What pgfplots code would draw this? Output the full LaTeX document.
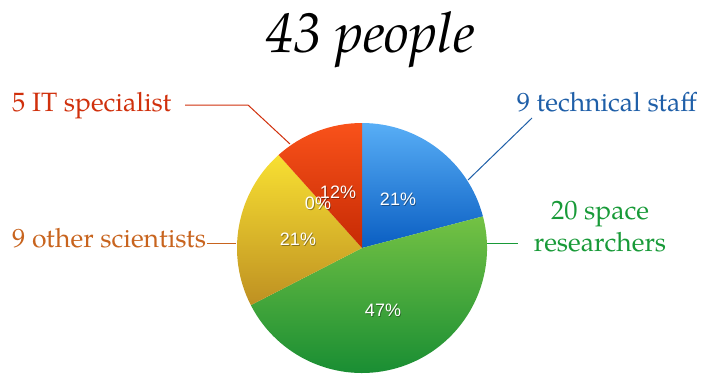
\documentclass[border=0pt]{standalone}
\usepackage{pgfplots}
\pgfplotsset{compat=1.18}
\usepackage{pgfplotstable}
\usepackage{fontspec}
\setmainfont{TeX Gyre Pagella}
\newfontfamily\pctfont{Liberation Sans}
\definecolor{blueT}{HTML}{58AEF6}
\definecolor{blueB}{HTML}{0A5EC2}
\definecolor{greenT}{HTML}{74C244}
\definecolor{greenB}{HTML}{138A32}
\definecolor{yellowT}{HTML}{F8E032}
\definecolor{yellowB}{HTML}{BE9022}
\definecolor{redT}{HTML}{F9521A}
\definecolor{redB}{HTML}{C62A04}
\definecolor{labRed}{HTML}{D0300C}
\definecolor{labBlue}{HTML}{1F5FA8}
\definecolor{labGreen}{HTML}{189A38}
\definecolor{labOrange}{HTML}{C8641E}
\tikzset{pct/.style={font=\pctfont\fontsize{18}{20}\selectfont, text=white, inner sep=0},
  pctsh/.style={font=\pctfont\fontsize{18}{20}\selectfont, text=black, opacity=0.35, inner sep=0, xshift=0.8pt, yshift=-1pt}}
\begin{document}
\begin{tikzpicture}
\pgfplotstableread{
label value
tech 9
space 20
other 9
zero 0
it 5
}\piedata
\pgfplotstablegetelem{0}{value}\of\piedata \pgfmathsetmacro\vA{\pgfplotsretval}
\pgfplotstablegetelem{1}{value}\of\piedata \pgfmathsetmacro\vB{\pgfplotsretval}
\pgfplotstablegetelem{2}{value}\of\piedata \pgfmathsetmacro\vC{\pgfplotsretval}
\pgfplotstablegetelem{3}{value}\of\piedata \pgfmathsetmacro\vD{\pgfplotsretval}
\pgfplotstablegetelem{4}{value}\of\piedata \pgfmathsetmacro\vE{\pgfplotsretval}
\pgfmathsetmacro\tot{\vA+\vB+\vC+\vD+\vE}
\pgfmathsetmacro\aA{90-360*\vA/\tot}
\pgfmathsetmacro\aB{\aA-360*\vB/\tot}
\pgfmathsetmacro\aC{\aB-360*\vC/\tot}
\pgfmathsetmacro\aD{\aC-360*\vD/\tot}
\pgfmathsetmacro\aE{\aD-360*\vE/\tot}
\begin{axis}[scale only axis, width=703pt, height=376pt,
  xmin=0, xmax=703, ymin=0, ymax=376, hide axis, clip=false]
\draw[draw=none] (axis cs:0,0) rectangle (axis cs:703,376);
% slices
\shade[top color=blueT, bottom color=blueB] (axis cs:362,128) -- ++(90:125) arc[start angle=90, end angle=\aA, radius=125] -- cycle;
\shade[top color=greenT, bottom color=greenB] (axis cs:362,128) -- ++(\aA:125) arc[start angle=\aA, end angle=\aB, radius=125] -- cycle;
\shade[top color=yellowT, bottom color=yellowB] (axis cs:362,128) -- ++(\aB:125) arc[start angle=\aB, end angle=\aC, radius=125] -- cycle;
\shade[top color=redT, bottom color=redB] (axis cs:362,128) -- ++(\aD:125) arc[start angle=\aD, end angle=\aE, radius=125] -- cycle;
% percentages
\node[pctsh] at (axis cs:398,177) {21\%};
\node[pct] at (axis cs:398,177) {21\%};
\node[pctsh] at (axis cs:383,66) {47\%};
\node[pct] at (axis cs:383,66) {47\%};
\node[pctsh] at (axis cs:298,137) {21\%};
\node[pct] at (axis cs:298,137) {21\%};
\node[pctsh] at (axis cs:318,173) {0\%};
\node[pct] at (axis cs:318,173) {0\%};
\node[pctsh] at (axis cs:338,184) {12\%};
\node[pct] at (axis cs:338,184) {12\%};
% title
\node[anchor=base, inner sep=0, font=\fontsize{56}{60}\selectfont\itshape] at (axis cs:370,324) {43 people};
% labels
\node[anchor=base west, inner sep=0, text=labRed, font=\fontsize{26.5}{30}\selectfont] at (axis cs:12,265) {5 IT specialist};
\draw[labRed, line width=1pt] (axis cs:185,271) -- (axis cs:248,271) -- (axis cs:290,232);
\node[anchor=base west, inner sep=0, text=labOrange, font=\fontsize{26.5}{30}\selectfont] at (axis cs:12,129) {9 other scientists};
\draw[labOrange, line width=1pt] (axis cs:207,133) -- (axis cs:236,133);
\node[anchor=base east, inner sep=0, text=labBlue, font=\fontsize{26.5}{30}\selectfont] at (axis cs:697,265) {9 technical staff};
\draw[labBlue, line width=1pt] (axis cs:532,258) -- (axis cs:468,196);
\node[anchor=base, inner sep=0, text=labGreen, font=\fontsize{26.5}{30}\selectfont] at (axis cs:600,157) {20 space};
\node[anchor=base, inner sep=0, text=labGreen, font=\fontsize{26.5}{30}\selectfont] at (axis cs:600,124.5) {researchers};
\draw[labGreen, line width=1pt] (axis cs:487,133) -- (axis cs:518,133);
\end{axis}
\end{tikzpicture}
\end{document}
